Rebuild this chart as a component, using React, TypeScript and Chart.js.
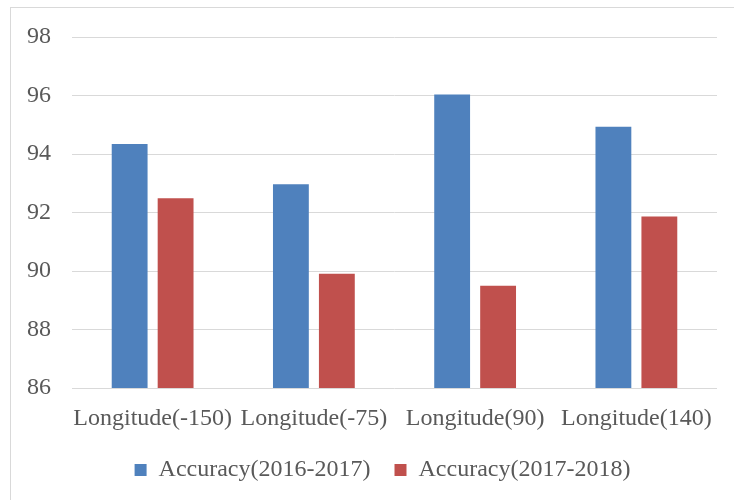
import React, { useEffect, useRef } from "react";
import { Chart, registerables } from "chart.js";

Chart.register(...registerables);

const categories = ["Longitude(-150)", "Longitude(-75)", "Longitude(90)", "Longitude(140)"];
const accuracy2016_2017 = [94.34, 92.97, 96.03, 94.93];
const accuracy2017_2018 = [92.49, 89.91, 89.5, 91.86];
const seriesNames = ["Accuracy(2016-2017)", "Accuracy(2017-2018)"];
const yMin = 86;
const yMax = 98;
const yStep = 2;

const FONT = "'Liberation Serif', 'Times New Roman', serif";
const TEXT = "#595959";

const legendShift = {
  id: "legendShift",
  afterLayout(chart: any) {
    const lg = chart.legend;
    if (!lg) return;
    lg.left += 24;
    lg.right += 24;
    lg.top += 2;
    lg.bottom += 2;
  },
};

export default function App() {
  const ref = useRef<HTMLCanvasElement | null>(null);

  useEffect(() => {
    if (!ref.current) return;
    const chart = new Chart(ref.current, {
      type: "bar",
      data: {
        labels: categories,
        datasets: [
          {
            label: seriesNames[0],
            data: accuracy2016_2017,
            backgroundColor: "#4F81BD",
            borderWidth: 0,
            categoryPercentage: 0.57,
            barPercentage: 0.78,
          },
          {
            label: seriesNames[1],
            data: accuracy2017_2018,
            backgroundColor: "#C0504D",
            borderWidth: 0,
            categoryPercentage: 0.57,
            barPercentage: 0.78,
          },
        ],
      },
      options: {
        animation: false,
        responsive: false,
        maintainAspectRatio: false,
        layout: { padding: { top: 37, right: 17, bottom: 10, left: 0 } },
        plugins: {
          tooltip: { enabled: false },
          legend: {
            position: "bottom",
            labels: {
              boxWidth: 12,
              boxHeight: 12,
              padding: 24,
              color: TEXT,
              font: { family: FONT, size: 24 },
            },
          },
        },
        scales: {
          x: {
            grid: { display: false, drawTicks: false },
            border: { display: false },
            ticks: {
              color: TEXT,
              font: { family: FONT, size: 24 },
              padding: 16,
              maxRotation: 0,
              autoSkip: false,
            },
            afterFit: (s: any) => {
              s.height = 44;
            },
          },
          y: {
            min: yMin,
            max: yMax,
            grid: { color: "#d9d9d9", lineWidth: 1, drawTicks: false },
            border: { display: false },
            ticks: {
              stepSize: yStep,
              color: TEXT,
              font: { family: FONT, size: 24 },
              padding: 21,
            },
            afterFit: (s: any) => {
              s.width = 72;
            },
          },
        },
      },
      plugins: [legendShift],
    });
    return () => chart.destroy();
  }, []);

  return (
    <div style={{ position: "fixed", left: 0, top: 0, width: 734, height: 500, background: "#fff", overflow: "hidden" }}>
      <div
        style={{
          position: "absolute",
          left: 10,
          top: 7,
          width: 740,
          height: 520,
          border: "1px solid #d9d9d9",
          boxSizing: "border-box",
        }}
      />
      <canvas ref={ref} width={734} height={500} style={{ position: "absolute", left: 0, top: 0, width: 734, height: 500 }} />
    </div>
  );
}
